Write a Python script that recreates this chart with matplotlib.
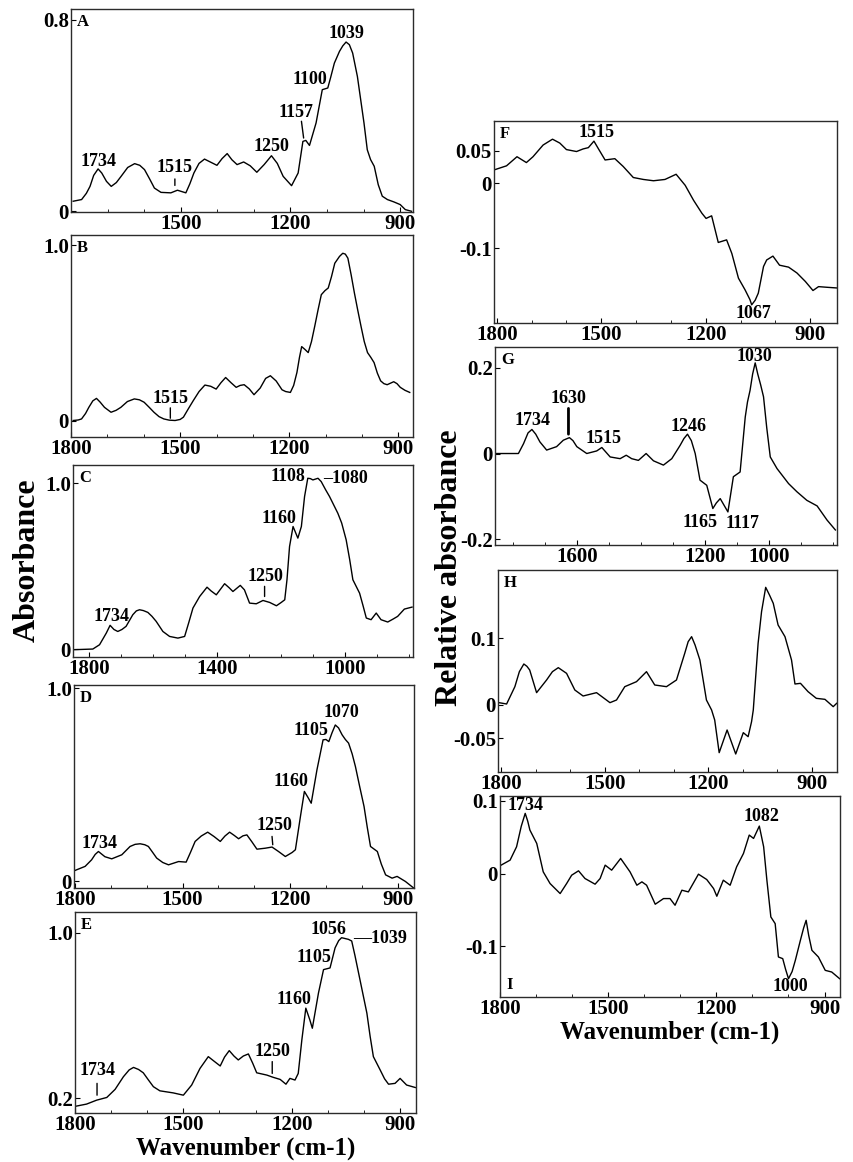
import numpy as np
import matplotlib
matplotlib.use('Agg')
import matplotlib.pyplot as plt
from matplotlib.ticker import MultipleLocator

plt.rcParams['font.family'] = ['Liberation Serif', 'DejaVu Serif']
plt.rcParams['font.weight'] = 'bold'
plt.rcParams['axes.unicode_minus'] = False

# ---- spectra: (wavenumber, absorbance) pairs ----
spec_a = [(1794, 0.042), (1771, 0.049), (1758, 0.075), (1748, 0.104), (1738, 0.150), (1726, 0.177),
          (1716, 0.160), (1703, 0.125), (1690, 0.104), (1676, 0.120), (1663, 0.146), (1645, 0.183),
          (1626, 0.199), (1612, 0.192), (1599, 0.174), (1585, 0.135), (1572, 0.097), (1554, 0.079),
          (1527, 0.077), (1509, 0.088), (1486, 0.077), (1475, 0.115), (1464, 0.160), (1450, 0.200),
          (1435, 0.218), (1418, 0.205), (1401, 0.192), (1387, 0.220), (1373, 0.241), (1360, 0.215),
          (1346, 0.195), (1328, 0.206), (1310, 0.190), (1292, 0.163), (1272, 0.195), (1252, 0.232),
          (1236, 0.200), (1220, 0.146), (1197, 0.107), (1179, 0.160), (1166, 0.292), (1158, 0.296),
          (1148, 0.275), (1130, 0.369), (1113, 0.508), (1098, 0.515), (1090, 0.560), (1080, 0.619),
          (1066, 0.668), (1057, 0.691), (1048, 0.707), (1039, 0.696), (1030, 0.661), (1017, 0.563),
          (1008, 0.466), (999, 0.369), (990, 0.257), (981, 0.216), (971, 0.188), (960, 0.111),
          (949, 0.063), (935, 0.049), (917, 0.039), (900, 0.028), (886, 0.007), (869, 0.0)]

spec_b = [(1794, 0.0), (1780, 0.003), (1771, 0.009), (1760, 0.040), (1751, 0.075), (1740, 0.112),
          (1730, 0.126), (1720, 0.105), (1708, 0.075), (1690, 0.047), (1676, 0.058), (1663, 0.075),
          (1645, 0.108), (1626, 0.123), (1612, 0.118), (1599, 0.104), (1585, 0.075), (1572, 0.047),
          (1558, 0.022), (1545, 0.009), (1530, 0.002), (1514, 0.0), (1500, 0.006), (1491, 0.019),
          (1478, 0.065), (1464, 0.113), (1448, 0.165), (1432, 0.202), (1416, 0.195), (1401, 0.179),
          (1388, 0.215), (1375, 0.245), (1360, 0.215), (1346, 0.189), (1335, 0.200), (1324, 0.204),
          (1310, 0.180), (1297, 0.147), (1280, 0.185), (1265, 0.240), (1252, 0.255), (1236, 0.225),
          (1220, 0.175), (1210, 0.165), (1197, 0.160), (1188, 0.200), (1179, 0.274), (1172, 0.360),
          (1166, 0.421), (1157, 0.405), (1148, 0.387), (1139, 0.450), (1130, 0.538), (1121, 0.630),
          (1112, 0.717), (1102, 0.740), (1093, 0.755), (1084, 0.820), (1075, 0.896), (1062, 0.935),
          (1053, 0.953), (1046, 0.948), (1039, 0.925), (1030, 0.830), (1021, 0.726), (1012, 0.630),
          (1003, 0.538), (994, 0.450), (985, 0.387), (976, 0.360), (967, 0.330), (958, 0.270),
          (949, 0.226), (940, 0.210), (931, 0.204), (913, 0.221), (904, 0.210), (895, 0.189),
          (882, 0.172), (869, 0.160)]

spec_c = [(1848, -0.004), (1788, 0.0), (1767, 0.026), (1746, 0.096), (1734, 0.143), (1722, 0.118),
          (1710, 0.106), (1697, 0.118), (1684, 0.137), (1663, 0.207), (1652, 0.230), (1642, 0.237),
          (1630, 0.232), (1616, 0.221), (1603, 0.197), (1590, 0.167), (1569, 0.106), (1548, 0.076),
          (1522, 0.066), (1501, 0.076), (1488, 0.160), (1475, 0.247), (1454, 0.317), (1431, 0.373),
          (1418, 0.350), (1402, 0.327), (1376, 0.394), (1362, 0.370), (1350, 0.347), (1327, 0.384),
          (1314, 0.357), (1298, 0.277), (1277, 0.273), (1256, 0.293), (1235, 0.281), (1214, 0.261),
          (1199, 0.281), (1188, 0.297), (1181, 0.418), (1173, 0.618), (1162, 0.739), (1147, 0.669),
          (1136, 0.739), (1126, 0.920), (1116, 1.030), (1108, 1.028), (1100, 1.020), (1084, 1.030),
          (1074, 1.010), (1060, 0.960), (1048, 0.920), (1022, 0.819), (1010, 0.760), (996, 0.659),
          (985, 0.540), (975, 0.418), (954, 0.337), (943, 0.260), (933, 0.187), (918, 0.177),
          (902, 0.217), (887, 0.177), (866, 0.163), (850, 0.180), (835, 0.197), (814, 0.241),
          (790, 0.253)]

spec_d = [(1799, 0.057), (1771, 0.078), (1753, 0.112), (1743, 0.140), (1734, 0.155), (1716, 0.128),
          (1697, 0.117), (1669, 0.138), (1646, 0.181), (1632, 0.192), (1618, 0.195), (1605, 0.190),
          (1595, 0.181), (1583, 0.150), (1572, 0.121), (1555, 0.098), (1539, 0.086), (1511, 0.103),
          (1490, 0.100), (1478, 0.150), (1465, 0.207), (1448, 0.235), (1430, 0.255), (1412, 0.232),
          (1395, 0.207), (1382, 0.235), (1369, 0.255), (1356, 0.238), (1344, 0.221), (1332, 0.236),
          (1321, 0.241), (1307, 0.205), (1293, 0.167), (1270, 0.172), (1251, 0.178), (1233, 0.155),
          (1214, 0.129), (1195, 0.150), (1186, 0.164), (1172, 0.336), (1161, 0.466), (1151, 0.435),
          (1142, 0.405), (1126, 0.578), (1109, 0.733), (1101, 0.735), (1093, 0.724), (1084, 0.770),
          (1075, 0.810), (1066, 0.795), (1056, 0.759), (1047, 0.735), (1038, 0.716), (1028, 0.660),
          (1019, 0.595), (1007, 0.490), (995, 0.388), (986, 0.280), (977, 0.181), (958, 0.155),
          (947, 0.090), (935, 0.034), (917, 0.017), (903, 0.026), (880, 0.0), (857, -0.034)]

spec_e = [(1797, 0.163), (1768, 0.173), (1740, 0.192), (1712, 0.205), (1689, 0.244), (1666, 0.305),
          (1650, 0.338), (1638, 0.350), (1624, 0.340), (1611, 0.324), (1597, 0.290), (1583, 0.257),
          (1565, 0.237), (1528, 0.227), (1500, 0.216), (1477, 0.265), (1454, 0.345), (1431, 0.402),
          (1415, 0.380), (1398, 0.357), (1386, 0.400), (1373, 0.431), (1360, 0.405), (1348, 0.386),
          (1334, 0.405), (1320, 0.415), (1308, 0.370), (1297, 0.324), (1269, 0.313), (1251, 0.302),
          (1232, 0.292), (1216, 0.269), (1205, 0.297), (1191, 0.289), (1182, 0.321), (1172, 0.483),
          (1161, 0.636), (1150, 0.580), (1143, 0.539), (1126, 0.709), (1112, 0.822), (1094, 0.830),
          (1080, 0.927), (1070, 0.962), (1062, 0.976), (1043, 0.968), (1034, 0.960), (1025, 0.890),
          (1015, 0.806), (992, 0.612), (983, 0.500), (974, 0.402), (955, 0.337), (943, 0.295),
          (932, 0.269), (914, 0.273), (900, 0.297), (882, 0.265), (858, 0.253)]

# difference spectra (relative absorbance)
spec_f = [(1806, 0.021), (1772, 0.027), (1742, 0.041), (1715, 0.032), (1696, 0.041), (1667, 0.059),
          (1640, 0.068), (1619, 0.062), (1600, 0.052), (1571, 0.049), (1552, 0.053), (1537, 0.055),
          (1521, 0.065), (1509, 0.054), (1489, 0.036), (1461, 0.038), (1437, 0.026), (1408, 0.009),
          (1379, 0.006), (1350, 0.004), (1317, 0.006), (1285, 0.014), (1259, -0.003), (1235, -0.026),
          (1211, -0.046), (1199, -0.054), (1183, -0.050), (1164, -0.091), (1140, -0.087),
          (1125, -0.108), (1106, -0.146), (1087, -0.164), (1073, -0.179), (1068, -0.187),
          (1058, -0.180), (1049, -0.169), (1034, -0.128), (1025, -0.118), (1007, -0.112),
          (988, -0.126), (962, -0.129), (938, -0.138), (914, -0.151), (892, -0.165), (876, -0.159),
          (852, -0.160), (825, -0.161)]

spec_g = [(1850, 0.0), (1782, 0.0), (1766, 0.023), (1752, 0.048), (1740, 0.056), (1728, 0.045),
          (1715, 0.027), (1694, 0.008), (1663, 0.016), (1642, 0.031), (1623, 0.037), (1612, 0.030),
          (1600, 0.016), (1569, 0.0), (1538, 0.006), (1522, 0.014), (1496, -0.008), (1465, -0.012),
          (1446, -0.004), (1429, -0.012), (1408, -0.016), (1384, 0.0), (1361, -0.017), (1330, -0.027),
          (1304, -0.012), (1278, 0.019), (1266, 0.035), (1255, 0.045), (1243, 0.030), (1231, 0.0),
          (1216, -0.062), (1195, -0.074), (1176, -0.128), (1165, -0.115), (1153, -0.105),
          (1129, -0.136), (1112, -0.054), (1091, -0.043), (1075, 0.085), (1068, 0.120), (1060, 0.147),
          (1052, 0.185), (1044, 0.211), (1036, 0.185), (1027, 0.160), (1018, 0.132), (1008, 0.060),
          (997, -0.008), (976, -0.035), (940, -0.070), (914, -0.089), (883, -0.109), (851, -0.122),
          (820, -0.155), (794, -0.178)]

spec_h = [(1807, 0.0035), (1785, 0.0015), (1761, 0.0275), (1748, 0.050), (1735, 0.0615),
          (1726, 0.058), (1718, 0.0525), (1698, 0.0185), (1669, 0.0375), (1652, 0.050), (1635, 0.056),
          (1611, 0.0475), (1587, 0.0225), (1563, 0.0135), (1524, 0.0185), (1485, 0.0035),
          (1466, 0.0075), (1442, 0.0275), (1408, 0.035), (1379, 0.050), (1355, 0.030), (1321, 0.0275),
          (1292, 0.0375), (1268, 0.0775), (1258, 0.095), (1248, 0.1025), (1238, 0.090),
          (1224, 0.0675), (1205, 0.0075), (1190, -0.0075), (1181, -0.0225), (1168, -0.0715),
          (1145, -0.0375), (1120, -0.0735), (1098, -0.0415), (1084, -0.0475), (1074, -0.025),
          (1069, -0.0075), (1055, 0.0925), (1045, 0.140), (1033, 0.1765), (1022, 0.165),
          (1011, 0.1525), (997, 0.120), (977, 0.1025), (958, 0.0675), (948, 0.0315), (932, 0.0325),
          (910, 0.020), (886, 0.010), (861, 0.0085), (837, -0.0025), (827, 0.0025)]

spec_i = [(1798, 0.0115), (1773, 0.0184), (1755, 0.0368), (1742, 0.065), (1731, 0.0828),
          (1724, 0.072), (1718, 0.0598), (1699, 0.0414), (1681, 0.0023), (1662, -0.0138),
          (1634, -0.0276), (1616, -0.0138), (1602, -0.0023), (1583, 0.0037), (1565, -0.0069),
          (1537, -0.0147), (1523, -0.0069), (1509, 0.0115), (1491, 0.0046), (1466, 0.0207),
          (1440, 0.0023), (1421, -0.0161), (1407, -0.0115), (1394, -0.0161), (1370, -0.0423),
          (1347, -0.0345), (1329, -0.0345), (1315, -0.0437), (1296, -0.0230), (1278, -0.0253),
          (1250, -0.0009), (1227, -0.0083), (1208, -0.0207), (1199, -0.0313), (1181, -0.0092),
          (1162, -0.0161), (1144, 0.0092), (1125, 0.0276), (1109, 0.0529), (1097, 0.0483),
          (1081, 0.0653), (1069, 0.0368), (1060, -0.0092), (1049, -0.0598), (1037, -0.0690),
          (1028, -0.1149), (1016, -0.1172), (1008, -0.132), (1000, -0.1448), (990, -0.135),
          (981, -0.1195), (967, -0.0920), (958, -0.075), (951, -0.0644), (944, -0.085),
          (935, -0.1057), (917, -0.1149), (898, -0.1333), (880, -0.1356), (858, -0.1448)]

W, H = 854, 1162


def box(x0, x1, y0, y1):
    # pixel box -> figure fraction
    return [x0 / W, 1 - y1 / H, (x1 - x0) / W, (y1 - y0) / H]


def panel(fig, rect, spec, xlim, ylim, xt, yt, ytl, letter, notes, letter_bottom=False):
    ax = fig.add_axes(box(*rect))
    wn, ab = np.array(spec).T
    ax.plot(wn, ab, color='black', lw=1.0, solid_joinstyle='round')
    ax.set_xlim(*xlim)
    ax.set_ylim(*ylim)
    ax.set_xticks(xt)
    ax.set_xticklabels([str(t) for t in xt])
    ax.set_yticks(yt)
    ax.set_yticklabels(ytl)
    ax.xaxis.set_minor_locator(MultipleLocator(100))
    ax.tick_params(axis='both', which='major', direction='in', length=3.5, width=0.8,
                   labelsize=15, pad=1.5)
    ax.tick_params(axis='x', which='minor', direction='in', length=2, width=0.6)
    for lab in ax.get_xticklabels() + ax.get_yticklabels():
        lab.set_fontweight('bold')
    for s in ax.spines.values():
        s.set_linewidth(1.0)
        s.set_color('#2b2b2b')
    if letter_bottom:
        ax.text(0.018, 0.02, letter, transform=ax.transAxes, fontsize=12,
                fontweight='bold', ha='left', va='bottom')
    else:
        ax.text(0.018, 0.975, letter, transform=ax.transAxes, fontsize=12,
                fontweight='bold', ha='left', va='top')
    for n in notes:
        ax.text(n[1], n[2], n[0], fontsize=13, fontweight='bold', ha='center',
                va='center', clip_on=False)
    return ax


def mark(ax, x0, y0, x1, y1, lw=1.0):
    ax.annotate('', xy=(x1, y1), xytext=(x0, y0),
                arrowprops=dict(arrowstyle='-', lw=lw, color='black',
                                shrinkA=0, shrinkB=0))


fig = plt.figure(figsize=(W / 100, H / 100), dpi=100)

ax = panel(fig, (71, 413, 9, 212), spec_a, (1800, 865), (-0.003, 0.845),
           [1500, 1200, 900], [0, 0.8], ['0', '0.8'], 'A',
           [('1734', 1726, 0.206), ('1515', 1518, 0.181), ('1250', 1252, 0.271),
            ('1157', 1186, 0.413), ('1100', 1148, 0.550), ('1039', 1048, 0.744)])
mark(ax, 1516, 0.135, 1516, 0.108)
mark(ax, 1170, 0.376, 1164, 0.306)

ax = panel(fig, (71, 413, 235, 437), spec_b, (1800, 860), (-0.094, 1.057),
           [1800, 1500, 1200, 900], [0, 1.0], ['0', '1.0'], 'B',
           [('1515', 1527, 0.126)])
mark(ax, 1527, 0.072, 1527, 0.013)

ax = panel(fig, (73, 413, 465, 657), spec_c, (1850, 787), (-0.048, 1.11),
           [1800, 1400, 1000], [0, 1.0], ['0', '1.0'], 'C',
           [('1734', 1730, 0.197), ('1250', 1248, 0.438), ('1160', 1206, 0.789),
            ('1108', 1178, 1.040), ('\u20131080', 999, 1.030)])
mark(ax, 1251, 0.378, 1251, 0.317)

ax = panel(fig, (74, 414, 685, 888), spec_d, (1802, 856), (-0.034, 1.017),
           [1800, 1500, 1200, 900], [0, 1.0], ['0', '1.0'], 'D',
           [('1734', 1732, 0.198), ('1250', 1245, 0.290), ('1160', 1197, 0.517),
            ('1105', 1144, 0.781), ('1070', 1059, 0.874)])
mark(ax, 1251, 0.233, 1249, 0.190)

ax = panel(fig, (75, 416, 912, 1113), spec_e, (1800, 856), (0.13, 1.10),
           [1800, 1500, 1200, 900], [0.2, 1.0], ['0.2', '1.0'], 'E',
           [('1734', 1739, 0.337), ('1250', 1254, 0.426), ('1160', 1194, 0.677),
            ('1105', 1138, 0.879), ('1056', 1097, 1.016), ('\u20141039', 955, 0.971)])
mark(ax, 1739, 0.273, 1739, 0.216)
mark(ax, 1254, 0.378, 1254, 0.321)
ax.set_xlabel('Wavenumber (cm-1)', fontsize=18, fontweight='bold', labelpad=1)

ax = panel(fig, (494, 837, 121, 323), spec_f, (1808, 823), (-0.215, 0.096),
           [1800, 1500, 1200, 900], [-0.1, 0, 0.05], ['-0.1', '0', '0.05'], 'F',
           [('1515', 1514, 0.078), ('1067', 1063, -0.201)])

ax = panel(fig, (495, 837, 347, 545), spec_g, (1855, 789), (-0.213, 0.248),
           [1600, 1200, 1000], [-0.2, 0, 0.2], ['-0.2', '0', '0.2'], 'G',
           [('1734', 1739, 0.0775), ('1630', 1626, 0.128), ('1515', 1517, 0.035),
            ('1246', 1252, 0.062), ('1030', 1045, 0.225), ('1165', 1216, -0.160),
            ('1117', 1085, -0.162)])
mark(ax, 1626, 0.105, 1626, 0.045, lw=2.0)

ax = panel(fig, (498, 837, 570, 772), spec_h, (1810, 826), (-0.1005, 0.2025),
           [1800, 1500, 1200, 900], [-0.05, 0, 0.1], ['-0.05', '0', '0.1'], 'H', [])

ax = panel(fig, (500, 840, 796, 997), spec_i, (1801, 857), (-0.170, 0.1067),
           [1800, 1500, 1200, 900], [-0.1, 0, 0.1], ['-0.1', '0', '0.1'], 'I',
           [('1734', 1730, 0.093), ('1082', 1075, 0.078), ('1000', 995, -0.156)],
           letter_bottom=True)
ax.set_xlabel('Wavenumber (cm-1)', fontsize=18, fontweight='bold', labelpad=1)

fig.text(27 / W, 1 - 560 / H, 'Absorbance', rotation=90, fontsize=23,
         fontweight='bold', ha='center', va='center')
fig.text(450 / W, 1 - 568 / H, 'Relative absorbance', rotation=90, fontsize=23,
         fontweight='bold', ha='center', va='center')

fig.savefig('out.png', dpi=100)
